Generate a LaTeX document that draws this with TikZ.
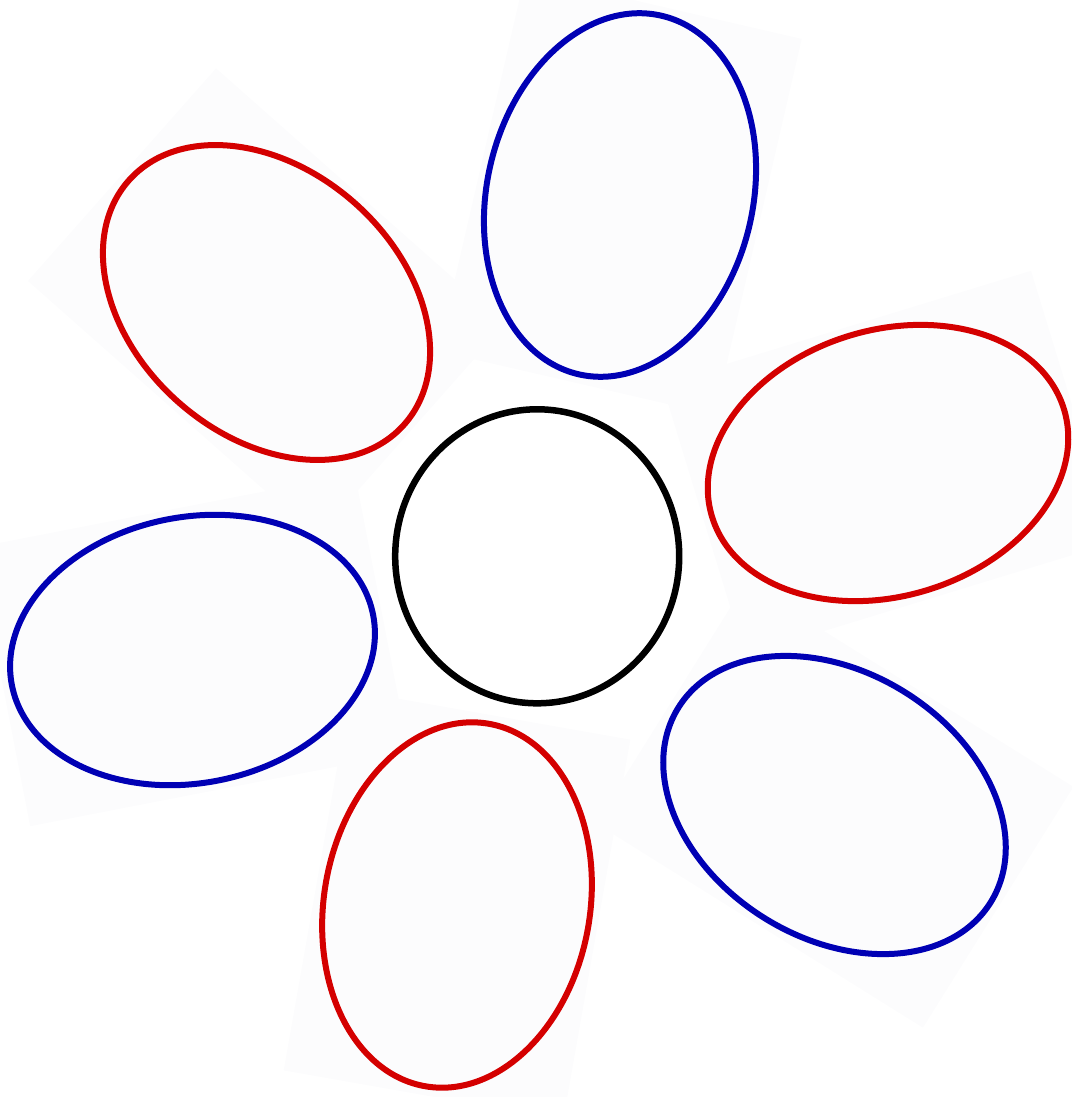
\documentclass[tikz,border=0pt]{standalone}
\usetikzlibrary{shapes.geometric}
\definecolor{petalred}{RGB}{212,0,0}
\definecolor{petalblue}{RGB}{0,0,180}
\definecolor{paper}{RGB}{252,252,253}

\begin{document}
\begin{tikzpicture}[
    petal/.style={ellipse, draw=#1, line width=0.06cm, inner sep=0pt,
                  minimum width=3.68cm, minimum height=2.66cm},
    sheet/.style={rectangle, fill=paper, inner sep=0pt,
                  minimum width=3.86cm, minimum height=2.84cm},
    core/.style={ellipse, draw=black, fill=white, line width=0.065cm,
                 inner sep=0pt, minimum width=2.84cm, minimum height=2.94cm}
]
\useasboundingbox (0,0) rectangle (10.71,-10.97);

% faint backing sheets
\node[sheet, rotate=77]    (s1) at (6.200,-1.950) {};
\node[sheet, rotate=17]    (s2) at (8.880,-4.630) {};
\node[sheet, rotate=-32]   (s3) at (8.345,-8.050) {};
\node[sheet, rotate=80]    (s4) at (4.570,-9.050) {};
\node[sheet, rotate=11]    (s5) at (1.925,-6.500) {};
\node[sheet, rotate=138.5] (s6) at (2.665,-3.025) {};

% petals
\node[petal=petalblue, rotate=77]    (p1) at (s1) {};
\node[petal=petalred,  rotate=17]    (p2) at (s2) {};
\node[petal=petalblue, rotate=-32]   (p3) at (s3) {};
\node[petal=petalred,  rotate=80]    (p4) at (s4) {};
\node[petal=petalblue, rotate=11]    (p5) at (s5) {};
\node[petal=petalred,  rotate=138.5] (p6) at (s6) {};

% centre
\node[core] (c) at (5.372,-5.563) {};

\end{tikzpicture}
\end{document}
